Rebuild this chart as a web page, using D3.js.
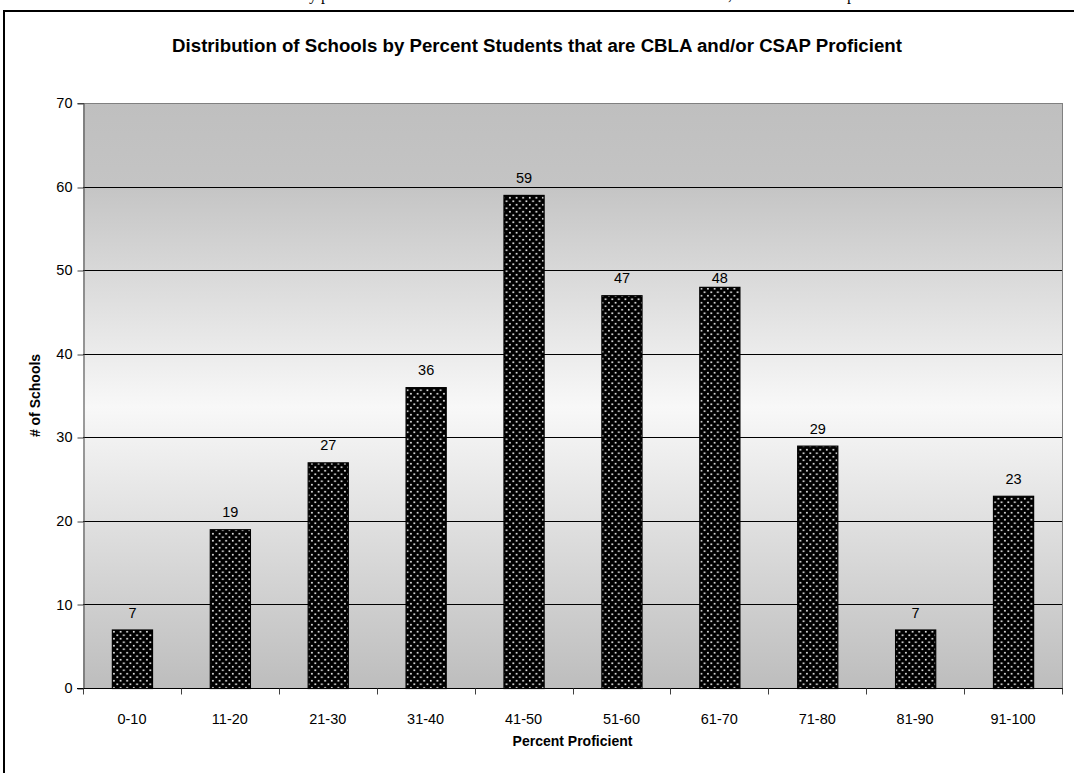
<!DOCTYPE html>
<html>
<head>
<meta charset="utf-8">
<script src="https://cdn.jsdelivr.net/npm/d3@7"></script>
<style>
  html, body { margin: 0; padding: 0; background: #ffffff; }
  svg { display: block; }
</style>
</head>
<body>
<script>
// Score bands (percent of students proficient) and the number of schools in each
const categories = ["0-10", "11-20", "21-30", "31-40", "41-50", "51-60", "61-70", "71-80", "81-90", "91-100"];
const schoolCounts = [7, 19, 27, 36, 59, 47, 48, 29, 7, 23];
const yTicks = [0, 10, 20, 30, 40, 50, 60, 70];

const chartTitle = "Distribution of Schools by Percent Students that are CBLA and/or CSAP Proficient";
const xTitle = "Percent Proficient";
const yTitle = "# of Schools";

const W = 1074, H = 773;
const plot = { left: 83, right: 1062, top: 103, bottom: 688 };
const font = "'Liberation Sans', Arial, sans-serif";

const svg = d3.select("body").append("svg")
  .attr("width", W).attr("height", H);

const defs = svg.append("defs");

// Plot-area fill: grey at top and bottom, near white in the middle
const grad = defs.append("linearGradient")
  .attr("id", "plotBg").attr("x1", 0).attr("y1", 0).attr("x2", 0).attr("y2", 1);
[[0, "#bfbfbf"], [0.14, "#c4c4c4"], [0.52, "#f8f8f8"], [1, "#bdbdbd"]]
  .forEach(([o, c]) => grad.append("stop").attr("offset", o).attr("stop-color", c));

// Dotted fill for the bars: black ground with staggered light dots
const pat = defs.append("pattern")
  .attr("id", "dots").attr("patternUnits", "userSpaceOnUse")
  .attr("width", 6.6).attr("height", 7);
pat.append("rect").attr("width", 6.6).attr("height", 7).attr("fill", "#000");
pat.append("rect").attr("x", 0.9).attr("y", 0.9).attr("width", 1.7).attr("height", 1.7).attr("fill", "#e6e6e6");
pat.append("rect").attr("x", 4.2).attr("y", 4.4).attr("width", 1.7).attr("height", 1.7).attr("fill", "#e6e6e6");

// Page frame around the chart
svg.append("path")
  .attr("d", `M4,${H} L4,11 L${W},11`)
  .attr("fill", "none").attr("stroke", "#000").attr("stroke-width", 2);

// Bottoms of the line of document text just above the chart
const topText = svg.append("g")
  .attr("font-family", "'Liberation Serif', 'Times New Roman', serif")
  .attr("font-size", 16).attr("fill", "#000");
[["y p", 309], [",", 728], ["p", 847]].forEach(([t, x]) =>
  topText.append("text").attr("x", x).attr("y", 0).text(t));

const x = d3.scaleBand()
  .domain(categories)
  .range([plot.left, plot.right])
  .paddingInner(0.59).paddingOuter(0.295);

const y = d3.scaleLinear()
  .domain([0, 70])
  .range([plot.bottom, plot.top]);

// Background
svg.append("rect")
  .attr("x", plot.left).attr("y", plot.top)
  .attr("width", plot.right - plot.left).attr("height", plot.bottom - plot.top)
  .attr("fill", "url(#plotBg)");

// Right edge of the plot area
svg.append("line")
  .attr("x1", plot.right + 0.5).attr("x2", plot.right + 0.5)
  .attr("y1", plot.top).attr("y2", plot.bottom)
  .attr("stroke", "#808080");

// Horizontal gridlines
svg.append("g").selectAll("line")
  .data(yTicks.filter(d => d > 0))
  .join("line")
  .attr("x1", plot.left).attr("x2", plot.right)
  .attr("y1", d => Math.round(y(d)) + 0.5).attr("y2", d => Math.round(y(d)) + 0.5)
  .attr("stroke", d => d === 70 ? "#808080" : "#000")
  .attr("stroke-width", 1);

const barData = categories.map((c, i) => ({ c, v: schoolCounts[i] }));

// Bars
svg.append("g").selectAll("rect")
  .data(barData)
  .join("rect")
  .attr("x", d => x(d.c) + 0.5)
  .attr("y", d => y(d.v) + 0.5)
  .attr("width", x.bandwidth())
  .attr("height", d => y(0) - y(d.v))
  .attr("fill", "url(#dots)")
  .attr("stroke", "#000").attr("stroke-width", 1.2);

// Value labels above bars; a label that would sit on a gridline drops just below it
function labelBaseline(v) {
  const base = y(v) - 12;
  const hit = yTicks.find(t => t > 0 && y(t) > base - 11 && y(t) < base + 1);
  return hit === undefined ? base : y(hit) + 12.5;
}
svg.append("g").selectAll("text")
  .data(barData)
  .join("text")
  .attr("x", d => x(d.c) + x.bandwidth() / 2 + 0.5)
  .attr("y", d => labelBaseline(d.v))
  .attr("text-anchor", "middle")
  .attr("font-family", font).attr("font-size", 14.5)
  .attr("fill", "#000")
  .text(d => d.v);

// Y axis
const yAxis = svg.append("g")
  .attr("transform", `translate(${plot.left + 0.5},0)`)
  .call(d3.axisLeft(y).tickValues(yTicks).tickSize(6).tickPadding(5));
yAxis.select(".domain").attr("stroke", "#404040");
yAxis.selectAll(".tick line").attr("stroke", "#404040")
  .attr("transform", d => `translate(0,${Math.round(y(d)) + 0.5 - y(d)})`);
yAxis.selectAll("text")
  .attr("font-family", font).attr("font-size", 14.5).attr("fill", "#000");

// X axis with ticks at the category boundaries
const xAxis = svg.append("g")
  .attr("transform", `translate(0,${plot.bottom + 0.5})`);
xAxis.append("line")
  .attr("x1", plot.left - 6).attr("x2", plot.right + 1)
  .attr("stroke", "#000");
const step = x.step();
xAxis.selectAll("line.tk")
  .data(d3.range(categories.length + 1))
  .join("line").attr("class", "tk")
  .attr("x1", i => Math.round(plot.left + i * step) + 0.5)
  .attr("x2", i => Math.round(plot.left + i * step) + 0.5)
  .attr("y1", 0).attr("y2", 6)
  .attr("stroke", "#404040");
xAxis.selectAll("text")
  .data(categories)
  .join("text")
  .attr("x", d => x(d) + x.bandwidth() / 2)
  .attr("y", 35)
  .attr("text-anchor", "middle")
  .attr("font-family", font).attr("font-size", 14.5)
  .attr("fill", "#000")
  .text(d => d);

// Titles
svg.append("text")
  .attr("x", W / 2).attr("y", 52)
  .attr("text-anchor", "middle")
  .attr("font-family", font).attr("font-size", 18.67).attr("font-weight", "bold")
  .text(chartTitle);

svg.append("text")
  .attr("x", (plot.left + plot.right) / 2).attr("y", 746)
  .attr("text-anchor", "middle")
  .attr("font-family", font).attr("font-size", 14).attr("font-weight", "bold")
  .text(xTitle);

svg.append("text")
  .attr("transform", `translate(40,${(plot.top + plot.bottom) / 2}) rotate(-90)`)
  .attr("text-anchor", "middle")
  .attr("font-family", font).attr("font-size", 14).attr("font-weight", "bold")
  .text(yTitle);
</script>
</body>
</html>
